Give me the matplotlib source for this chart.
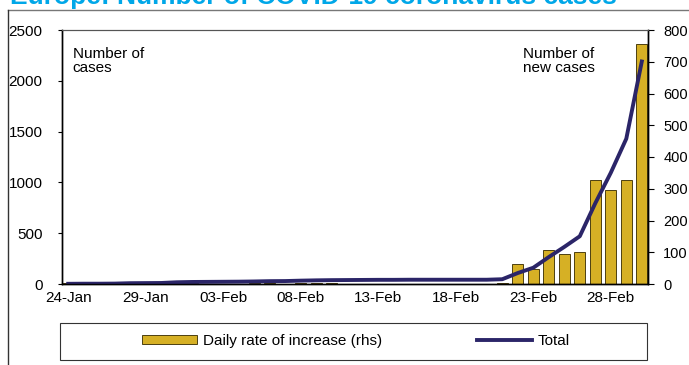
# -*- coding: utf-8 -*-
"""
Europe: number of COVID-19 coronavirus cases, total (lhs) and daily
increase (rhs), 24-Jan to 01-Mar.
"""
import matplotlib
matplotlib.use("Agg")
import matplotlib.pyplot as plt
from matplotlib.lines import Line2D
from matplotlib.patches import Rectangle

plt.rcParams['font.family'] = ['Liberation Sans', 'DejaVu Sans']

# Day labels (one per day, 24-Jan .. 01-Mar)
days = ["24-Jan", "25-Jan", "26-Jan", "27-Jan", "28-Jan", "29-Jan", "30-Jan",
        "31-Jan", "01-Feb", "02-Feb", "03-Feb", "04-Feb", "05-Feb", "06-Feb",
        "07-Feb", "08-Feb", "09-Feb", "10-Feb", "11-Feb", "12-Feb", "13-Feb",
        "14-Feb", "15-Feb", "16-Feb", "17-Feb", "18-Feb", "19-Feb", "20-Feb",
        "21-Feb", "22-Feb", "23-Feb", "24-Feb", "25-Feb", "26-Feb", "27-Feb",
        "28-Feb", "29-Feb", "01-Mar"]

# Daily rate of increase (rhs)
daily = [2, 1, 0, 1, 4, 1, 1, 7, 3, 1, 1, 1, 2, 3, 1, 4, 3, 2, 1, 1, 1,
         0, 1, 0, 0, 0, 0, 0, 3, 62, 46, 107, 96, 101, 326, 297, 328, 755]

# Total number of cases (lhs)
total = [2, 3, 3, 4, 8, 9, 10, 17, 20, 21, 22, 23, 25, 28, 29, 33, 36, 38,
         39, 40, 41, 41, 42, 42, 42, 42, 42, 42, 47, 108, 160, 265, 365, 470,
         795, 1095, 1430, 2190]

tick_every = 5

x = list(range(len(days)))

fig = plt.figure(figsize=(6.89, 3.65), dpi=100)
ax = fig.add_axes([62 / 689, 1 - 284 / 365, (648 - 62) / 689, 254 / 365])
ax2 = ax.twinx()

# bars on the right axis, line on the left axis drawn on top
ax2.bar(x, daily, width=0.7, color="#D6B025", edgecolor="#4d4010",
        linewidth=0.7, label="Daily rate of increase (rhs)")
ax.plot(x, total, color="#2B2568", linewidth=2.8, label="Total")
ax.set_zorder(ax2.get_zorder() + 1)
ax.patch.set_visible(False)

ax.set_xlim(-0.4, len(days) - 0.6)
ax.set_ylim(0, 2500)
ax2.set_ylim(0, 800)
ax.set_yticks(range(0, 2501, 500))
ax2.set_yticks(range(0, 801, 100))
ax.set_xticks(x[::tick_every])
ax.set_xticklabels(days[::tick_every])

ax.tick_params(axis="x", length=0, pad=5, labelsize=11)
ax.tick_params(axis="y", length=3, pad=11, labelsize=11)
ax2.tick_params(axis="y", length=4, pad=7, labelsize=10.5)

for a in (ax, ax2):
    for s in a.spines.values():
        s.set_linewidth(1.0)
        s.set_color("black")
    a.spines["top"].set_color("#555555")
    a.spines["top"].set_linewidth(0.8)

ax.text(0.018, 0.935, "Number of\ncases", transform=ax.transAxes,
        fontsize=11, va="top", ha="left", linespacing=1.0)
ax.text(0.786, 0.935, "Number of\nnew cases", transform=ax.transAxes,
        fontsize=11, va="top", ha="left", linespacing=1.0)

# title, cut at the top of the image as in the source
fig.text(10 / 689, 1 - 4 / 365, "Europe: Number of COVID-19 coronavirus cases",
         fontsize=19, fontweight="bold", color="#00A7E8", ha="left",
         va="baseline")

# outer frame lines
fig.add_artist(Line2D([8 / 689, 1], [1 - 10 / 365, 1 - 10 / 365],
                      color="#777777", linewidth=1.0))
fig.add_artist(Line2D([8 / 689, 8 / 689], [0, 1 - 10 / 365],
                      color="#333333", linewidth=1.0))

# legend box
fig.add_artist(Rectangle((60 / 689, 1 - 360 / 365), (647 - 60) / 689,
                         37 / 365, transform=fig.transFigure, fill=False,
                         edgecolor="#333333", linewidth=0.8))
h1, l1 = ax2.get_legend_handles_labels()
h2, l2 = ax.get_legend_handles_labels()
fig.legend(h1 + h2, l1 + l2, loc="center",
           bbox_to_anchor=(356 / 689, 1 - 341 / 365), ncol=2,
           frameon=False, fontsize=11, handlelength=3.6, handleheight=0.6,
           handletextpad=0.4, columnspacing=6.2)

fig.savefig("out.png", dpi=100)
